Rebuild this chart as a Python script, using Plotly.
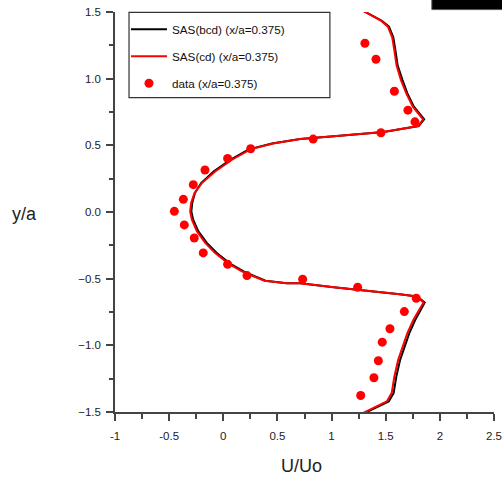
import plotly.graph_objects as go

# Velocity profiles at x/a = 0.375
y_cfd = [1.51, 1.433, 1.39, 1.31, 1.21, 1.10, 0.99, 0.89, 0.79, 0.73, 0.695, 0.645,
         0.60, 0.569, 0.548, 0.514, 0.47, 0.392, 0.304, 0.217, 0.142, 0.067, 0.004,
         -0.058, -0.145, -0.232, -0.307, -0.387, -0.445, -0.482, -0.515, -0.534, -0.534,
         -0.564, -0.589, -0.617, -0.634, -0.679, -0.747, -0.809, -0.909, -1.009, -1.109,
         -1.234, -1.358, -1.421, -1.458, -1.51]

u_bcd = [1.29, 1.465, 1.53, 1.57, 1.59, 1.61, 1.655, 1.70, 1.76, 1.82, 1.855, 1.805,
         1.48, 1.02, 0.71, 0.45, 0.235, 0.065, -0.09, -0.205, -0.262, -0.287, -0.295,
         -0.278, -0.23, -0.152, -0.06, 0.063, 0.187, 0.29, 0.39, 0.585, 0.71,
         1.02, 1.32, 1.63, 1.79, 1.86, 1.815, 1.773, 1.718, 1.673, 1.633,
         1.598, 1.573, 1.528, 1.428, 1.30]

u_cd = [1.29, 1.46, 1.52, 1.56, 1.58, 1.60, 1.64, 1.69, 1.75, 1.81, 1.845, 1.80,
        1.48, 1.02, 0.71, 0.46, 0.25, 0.08, -0.075, -0.198, -0.266, -0.297, -0.306,
        -0.29, -0.244, -0.167, -0.075, 0.048, 0.172, 0.279, 0.38, 0.585, 0.71,
        1.02, 1.32, 1.63, 1.785, 1.85, 1.80, 1.755, 1.70, 1.655, 1.615,
        1.58, 1.555, 1.51, 1.41, 1.285]

y_exp = [1.266, 1.146, 0.906, 0.764, 0.676, 0.594, 0.547, 0.474, 0.402, 0.315, 0.205,
         0.095, 0.005, -0.097, -0.195, -0.307, -0.392, -0.477, -0.504, -0.564, -0.647,
         -0.747, -0.876, -0.976, -1.116, -1.243, -1.376]
u_exp = [1.308, 1.41, 1.58, 1.705, 1.77, 1.456, 0.83, 0.253, 0.04, -0.169, -0.277,
         -0.369, -0.452, -0.36, -0.268, -0.185, 0.04, 0.219, 0.733, 1.241, 1.782,
         1.672, 1.539, 1.468, 1.432, 1.391, 1.269]

x_ticks = [-1, -0.5, 0, 0.5, 1, 1.5, 2, 2.5]
y_ticks = [-1.5, -1.0, -0.5, 0.0, 0.5, 1.0, 1.5]

FONT = "Liberation Sans, Arial, sans-serif"
AXIS_COLOR = "#444444"

fig = go.Figure()
fig.add_trace(go.Scatter(x=u_bcd, y=y_cfd, mode="lines", name="SAS(bcd) (x/a=0.375)",
                         line=dict(color="black", width=2), legendgroup="a"))
fig.add_trace(go.Scatter(x=u_cd, y=y_cfd, mode="lines", name="SAS(cd) (x/a=0.375)",
                         line=dict(color="#ff0000", width=2), legendgroup="b"))
fig.add_trace(go.Scatter(x=u_exp, y=y_exp, mode="markers", name="data (x/a=0.375)",
                         marker=dict(color="#ff0000", size=9), legendgroup="c"))

axis_common = dict(
    showgrid=False, zeroline=False, showline=True, linecolor=AXIS_COLOR, linewidth=1.5,
    ticks="outside", ticklen=7, tickwidth=1.5, tickcolor=AXIS_COLOR,
    tickfont=dict(family=FONT, size=11.5, color="#222222"),
    mirror=False, automargin=False,
)

fig.update_xaxes(range=[-1, 2.5], tickvals=x_ticks, ticktext=[str(v) for v in x_ticks],
                 minor=dict(ticks="outside", ticklen=5, tickwidth=1.5, tickcolor=AXIS_COLOR,
                            dtick=0.25, tick0=-1),
                 ticklabelstandoff=5, **axis_common)
fig.update_yaxes(range=[-1.5, 1.5], tickvals=y_ticks, tickformat=".1f",
                 minor=dict(ticks="outside", ticklen=4, tickwidth=1.5, tickcolor=AXIS_COLOR,
                            dtick=0.25, tick0=-1.5),
                 ticklabelstandoff=3, **axis_common)

fig.update_layout(
    width=502, height=482,
    margin=dict(l=115, r=8, t=12, b=70, autoexpand=False),
    paper_bgcolor="white", plot_bgcolor="white",
    font=dict(family=FONT, color="#222222"),
    showlegend=True,
    legend=dict(x=0.029, y=0.993, xanchor="left", yanchor="top",
                bgcolor="rgba(0,0,0,0)", borderwidth=0,
                font=dict(family=FONT, size=11.7, color="#111111"),
                itemwidth=36, tracegroupgap=8),
    shapes=[
        dict(type="rect", xref="paper", yref="paper", x0=0.037, x1=0.567,
             y0=0.786, y1=0.999, line=dict(color="#333333", width=1.2), fillcolor="rgba(0,0,0,0)"),
        dict(type="rect", xref="paper", yref="paper", x0=0.836, x1=1.03,
             y0=1.006, y1=1.04, line=dict(color="#555555", width=1), fillcolor="black"),
    ],
    annotations=[
        dict(text="y/a", xref="paper", yref="paper", x=-0.239, y=0.496, showarrow=False,
             xanchor="center", yanchor="middle",
             font=dict(family=FONT, size=18, color="#222222")),
        dict(text="U/Uo", xref="paper", yref="paper", x=0.493, y=-0.136, showarrow=False,
             xanchor="center", yanchor="middle",
             font=dict(family=FONT, size=18, color="#222222")),
    ],
)

fig.write_html("out.html")
